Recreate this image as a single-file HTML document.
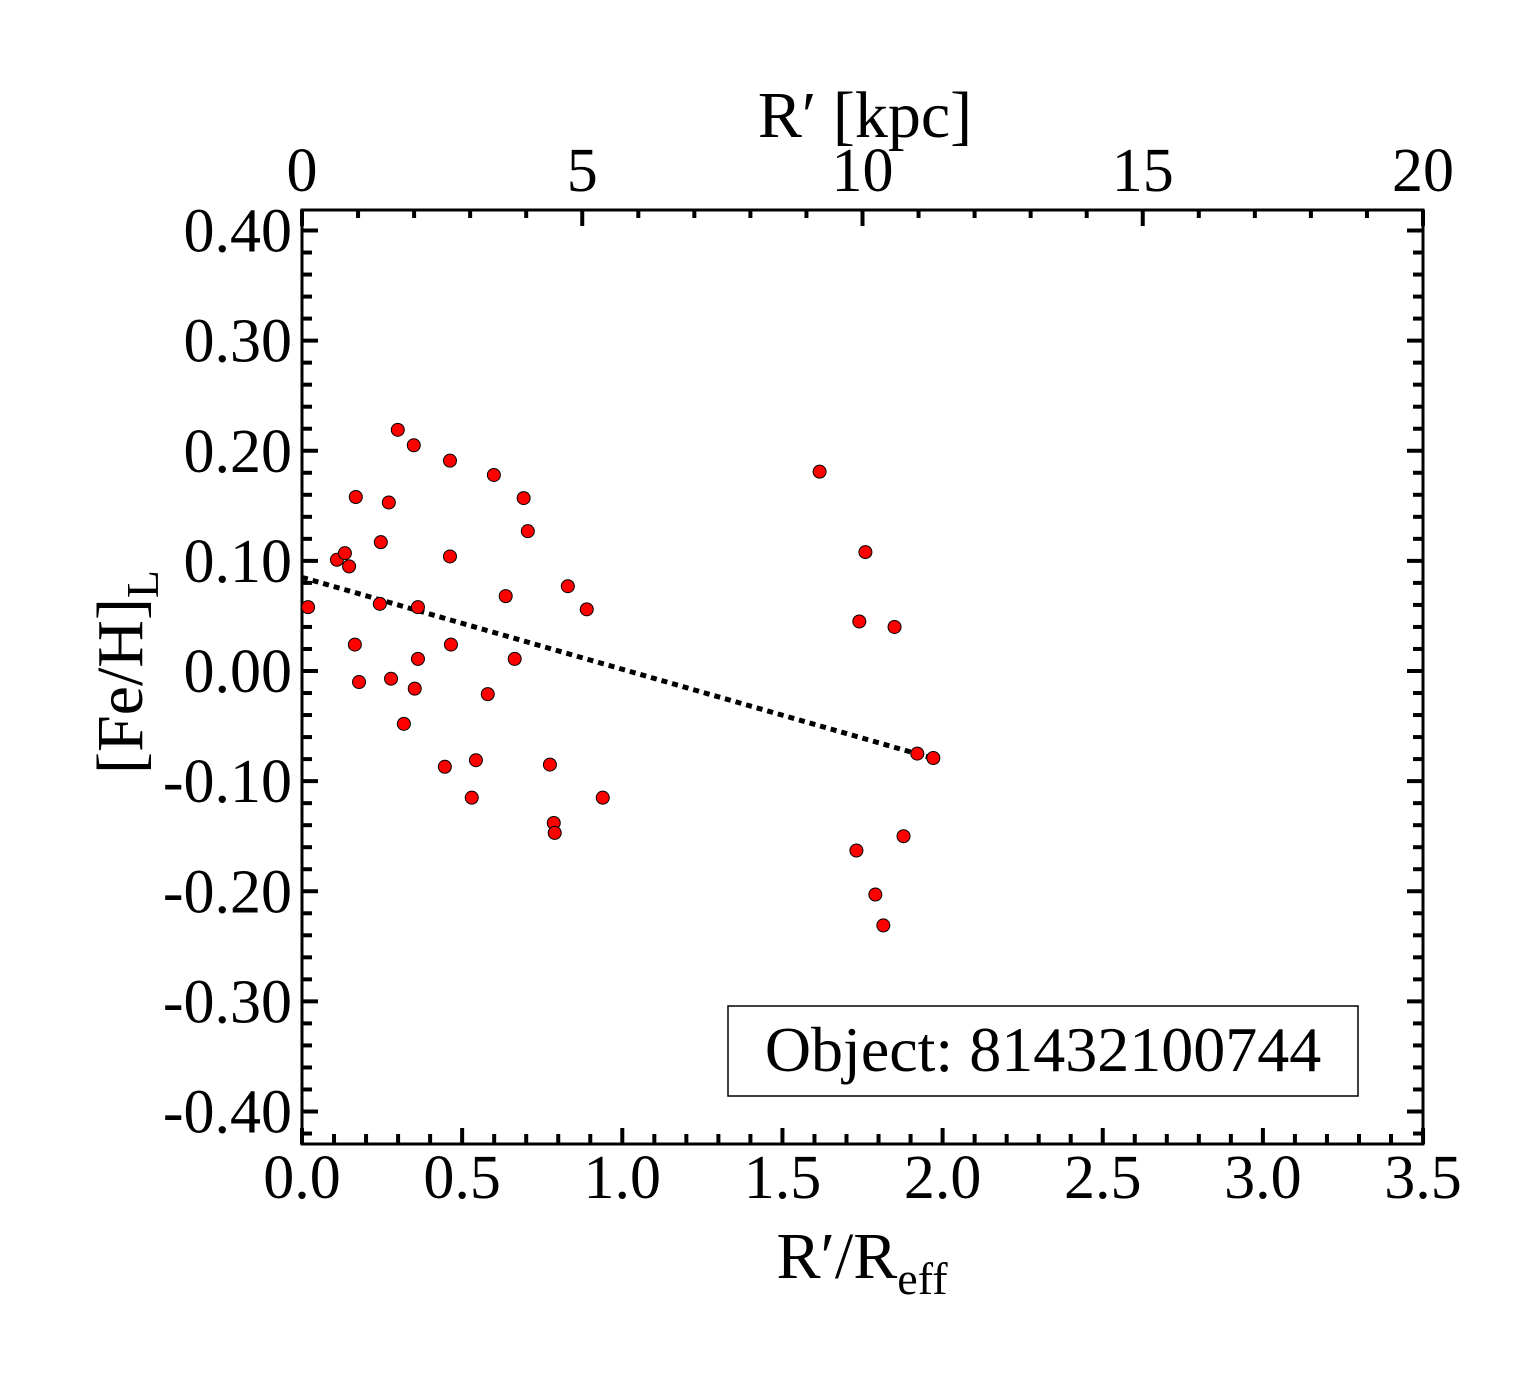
<!DOCTYPE html>
<html><head><meta charset="utf-8"><style>
body{margin:0;background:#fff}
svg{display:block}
text{font-family:"Liberation Serif",serif;fill:#000}
</style></head><body>
<svg id="chart" width="1540" height="1375">
<g id="marks"></g>
</svg>
<script>
const xVals=[0.019,0.109,0.134,0.147,0.168,0.165,0.178,0.246,0.243,0.271,0.278,0.299,0.318,0.349,0.362,0.352,0.362,0.446,0.462,0.462,0.465,0.530,0.543,0.580,0.599,0.636,0.664,0.692,0.705,0.774,0.786,0.789,0.830,0.889,0.939,1.616,1.731,1.740,1.759,1.790,1.815,1.850,1.878,1.921,1.971];
const yVals=[0.058,0.101,0.107,0.095,0.158,0.024,-0.010,0.117,0.061,0.153,-0.007,0.219,-0.048,0.205,0.058,-0.016,0.011,-0.087,0.191,0.104,0.024,-0.115,-0.081,-0.021,0.178,0.068,0.011,0.157,0.127,-0.085,-0.138,-0.147,0.077,0.056,-0.115,0.181,-0.163,0.045,0.108,-0.203,-0.231,0.040,-0.150,-0.075,-0.079];
const fitX=[0,1.99];
const fitY=[0.085,-0.081];
const xTicks=[0,0.5,1.0,1.5,2.0,2.5,3.0,3.5];
const xTickLabels=["0.0","0.5","1.0","1.5","2.0","2.5","3.0","3.5"];
const yTicks=[0.4,0.3,0.2,0.1,0,-0.1,-0.2,-0.3,-0.4];
const yTickLabels=["0.40","0.30","0.20","0.10","0.00","-0.10","-0.20","-0.30","-0.40"];
const kpcTicks=[0,5,10,15,20];
const kpcTickLabels=["0","5","10","15","20"];

const L=302,R=1423,T=210,B=1144;
const X=v=>L+v*320.3;
const Y=v=>671-v*1101.25;
const K=v=>L+v*(R-L)/20;
const svg=document.getElementById('chart');
const NS='http://www.w3.org/2000/svg';
function mk(tag,attrs,parent){const e=document.createElementNS(NS,tag);for(const k in attrs)e.setAttribute(k,attrs[k]);(parent||svg).appendChild(e);return e;}

const frame=mk('rect',{x:L,y:T,width:R-L,height:B-T,fill:'none',stroke:'#000','stroke-width':3});



for(let i=0;i<=35;i++){const v=i/10;const x=X(v);const maj=i%5===0;const len=maj?16:10;
 const t=mk('line',{x1:x,x2:x,y1:B,y2:B-len,stroke:'#000','stroke-width':4});
 
 }
for(let i=0;i<=20;i++){const x=K(i);const maj=i%5===0;const len=maj?16:8;
 const t=mk('line',{x1:x,x2:x,y1:T,y2:T+len,stroke:'#000','stroke-width':4});
 
 }
for(let i=-21;i<=20;i++){const v=i*0.02;const y=Y(v);const maj=i%5===0;const len=maj?16:10;
 const a=mk('line',{x1:L,x2:L+len,y1:y,y2:y,stroke:'#000','stroke-width':4});
 
 
 const b=mk('line',{x1:R,x2:R-len,y1:y,y2:y,stroke:'#000','stroke-width':4});
 
 }

xTicks.forEach((v,i)=>{const t=mk('text',{x:X(v),y:1198,'font-size':62,'text-anchor':'middle'});t.textContent=xTickLabels[i];
 
 });
yTicks.forEach((v,i)=>{const t=mk('text',{x:292,y:Y(v)+21,'font-size':62,'text-anchor':'end'});t.textContent=yTickLabels[i];
 
 });
kpcTicks.forEach((v,i)=>{const t=mk('text',{x:K(v),y:191,'font-size':62,'text-anchor':'middle'});t.textContent=kpcTickLabels[i];
 
 });

const fl=mk('line',{x1:X(fitX[0]),y1:Y(fitY[0]),x2:X(fitX[1]),y2:Y(fitY[1]),stroke:'#000','stroke-width':5,'stroke-dasharray':'6 5'});



xVals.forEach((v,i)=>{const c=mk('circle',{cx:X(v),cy:Y(yVals[i]),r:6.5,fill:'#ff0000',stroke:'#000','stroke-width':1});
 
 });
</script>
<svg width="1540" height="1375" style="position:absolute;left:0;top:0">
<text x="865" y="137" font-size="66" text-anchor="middle">R′ [kpc]</text>
<text x="862" y="1278" font-size="66" text-anchor="middle">R′/R<tspan font-size="46" dy="16">eff</tspan></text>
<text transform="translate(142,672) rotate(-90)" font-size="66" text-anchor="middle">[Fe/H]<tspan font-size="46" dy="16">L</tspan></text>
<rect x="728" y="1006" width="630" height="90" fill="#fff" stroke="#000" stroke-width="1.5"/>
<text x="1043" y="1071" font-size="64" text-anchor="middle">Object: 81432100744</text>
</svg>
</body></html>
